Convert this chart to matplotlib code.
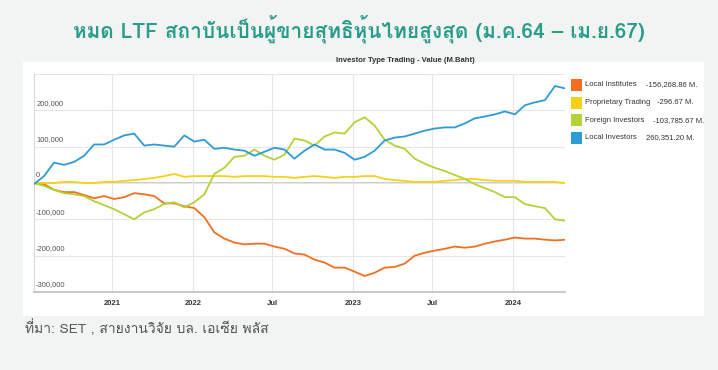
#!/usr/bin/env python3
"""LTF / investor type net trading chart (Jan 2021 - Apr 2024)."""
import matplotlib
matplotlib.use("Agg")
import matplotlib.pyplot as plt
import pandas as pd
from matplotlib import font_manager, ft2font
from matplotlib.patches import Rectangle

# ── data (M.Baht, cumulative net) ────────────────────────────────────────────

START, END = "2021-01-04", "2024-04-28"

local_institutes = [
    0, -3000, -19000, -25000, -25000, -33000, -42000, -36000, -44000, -39000,
    -28000, -31000, -36000, -56000, -56000, -64000, -69000, -94000, -136000, -153000,
    -164000, -169000, -167000, -167000, -175000, -181000, -194000, -197000, -211000, -219000,
    -233000, -233000, -244000, -256000, -247000, -233000, -231000, -222000, -200000, -192000,
    -186000, -181000, -175000, -178000, -175000, -167000, -161000, -156000, -150000, -153000,
    -153000, -156000, -158000, -156269,
]
proprietary = [
    0, 0, 0, 3000, 3000, 0, 0, 3000, 3000, 6000,
    8000, 11000, 14000, 19000, 25000, 17000, 19000, 19000, 19000, 19000,
    17000, 19000, 19000, 19000, 17000, 17000, 14000, 17000, 19000, 17000,
    14000, 17000, 17000, 19000, 19000, 11000, 8000, 6000, 3000, 3000,
    3000, 6000, 8000, 11000, 11000, 8000, 6000, 6000, 6000, 3000,
    3000, 3000, 3000, -297,
]
foreign = [
    0, -8000, -19000, -28000, -31000, -36000, -50000, -61000, -72000, -86000,
    -100000, -81000, -72000, -58000, -53000, -67000, -53000, -31000, 25000, 42000,
    72000, 75000, 92000, 75000, 64000, 78000, 122000, 117000, 103000, 128000,
    139000, 136000, 167000, 181000, 158000, 119000, 103000, 94000, 67000, 53000,
    42000, 33000, 22000, 11000, -3000, -14000, -25000, -39000, -39000, -58000,
    -64000, -69000, -100000, -103786,
]
local_investors = [
    -3000, 19000, 56000, 50000, 58000, 75000, 106000, 106000, 119000, 131000,
    136000, 103000, 106000, 103000, 100000, 131000, 114000, 119000, 94000, 97000,
    92000, 89000, 75000, 86000, 97000, 92000, 67000, 89000, 106000, 92000,
    92000, 83000, 64000, 72000, 89000, 117000, 125000, 128000, 136000, 144000,
    150000, 153000, 153000, 164000, 178000, 183000, 189000, 197000, 189000, 214000,
    222000, 228000, 267000, 260351,
]

SERIES = ["Local Institutes", "Proprietary Trading", "Foreign Investors", "Local Investors"]
FINAL = ["-156,268.86 M.", "-296.67 M.", "-103,785.67 M.", "260,351.20 M."]
COLORS = ["#f26f21", "#f7d117", "#b2d235", "#2e9bd6"]

TICK_DATES = ["2021-07-01", "2022-01-01", "2022-07-01", "2023-01-01", "2023-07-01", "2024-01-01"]
TICK_LABELS = ["2021", "2022", "Jul", "2023", "Jul", "2024"]
Y_TICKS = [-300000, -200000, -100000, 0, 100000, 200000, 300000]

TITLE = "หมด LTF สถาบันเป็นผู้ขายสุทธิหุ้นไทยสูงสุด (ม.ค.64 – เม.ย.67)"
FOOTER = "ที่มา: SET , สายงานวิจัย บล. เอเซีย พลัส"


# ── fonts ────────────────────────────────────────────────────────────────────

def thai_family():
    for f in font_manager.fontManager.ttflist:
        try:
            cmap = ft2font.FT2Font(f.fname).get_charmap()
        except Exception:
            continue
        if 0x0E01 in cmap:
            return f.name
    return "DejaVu Sans"


THAI = [thai_family(), "DejaVu Sans"]
NARROW = ["Liberation Sans Narrow", "Liberation Sans", "DejaVu Sans"]


# ── figure ───────────────────────────────────────────────────────────────────

fig = plt.figure(figsize=(7.18, 3.70), dpi=100, facecolor="#f2f4f4")
W, H = 718, 370

# white chart panel (behind the axes)
fig.patches.append(Rectangle((23 / W, 1 - 316 / H), 681 / W, 254 / H,
                             transform=fig.transFigure, facecolor="white",
                             edgecolor="none", zorder=-5))

fig.text(0.5, 1 - 29 / H, TITLE, ha="center", va="center", fontsize=15,
         fontweight="bold", color="#2a9d8a", family=THAI)
fig.text(25 / W, 1 - 328 / H, FOOTER, ha="left", va="center", fontsize=10,
         color="#555555", family=THAI)

ax = fig.add_axes([34 / W, 1 - 292 / H, 531 / W, 218 / H], zorder=2)
ax.set_facecolor("white")

dates = pd.date_range(START, END, periods=len(local_investors))
for name, vals, col in zip(SERIES, [local_institutes, proprietary, foreign, local_investors], COLORS):
    ax.plot(dates, vals, color=col, lw=1.3, label=name, zorder=3)

ax.set_xlim(pd.Timestamp(START), pd.Timestamp(END))
ax.set_ylim(-300000, 300000)

ax.set_xticks(pd.to_datetime(TICK_DATES))
ax.set_xticklabels(TICK_LABELS, fontsize=5.5, fontweight="bold", color="#333333",
                   family=NARROW)
ax.tick_params(axis="x", length=0, pad=6)
ax.set_yticks(Y_TICKS)
ax.set_yticklabels([])
ax.tick_params(axis="y", length=0)
ax.grid(True, color="#e6e6e6", lw=0.8, zorder=0)
ax.axhline(0, color="#c4c4c4", lw=1.2, zorder=1)

# y labels inside plot, above gridlines
for v in Y_TICKS[:-1]:
    ax.text(0.004, v + 10000, f"{v:,}", transform=ax.get_yaxis_transform(),
            ha="left", va="bottom", fontsize=5.5, color="#555555", family=NARROW)

for side in ["top", "right"]:
    ax.spines[side].set_visible(False)
ax.spines["left"].set_color("#d8d8d8")
ax.spines["bottom"].set_color("#c8c8c8")
ax.spines["bottom"].set_linewidth(1.4)

fig.text(405 / W, 1 - 61 / H, "Investor Type Trading - Value (M.Baht)", ha="center",
         va="center", fontsize=5.5, fontweight="bold", color="#333333", family=NARROW)

# ── legend (manual, with final values) ───────────────────────────────────────
rows_y = [85, 102.7, 120.3, 137.7]
val_x = [646, 657, 653, 646]
for name, fin, col, ry, vx in zip(SERIES, FINAL, COLORS, rows_y, val_x):
    fig.patches.append(Rectangle((571 / W, 1 - (ry + 6) / H), 11 / W, 12 / H,
                                 transform=fig.transFigure, facecolor=col,
                                 edgecolor="none"))
    fig.text(585 / W, 1 - ry / H, name, ha="left", va="center", fontsize=5.5,
             color="#333333", family=NARROW)
    fig.text(vx / W, 1 - ry / H, fin, ha="left", va="center", fontsize=5.5,
             color="#333333", family=NARROW)

fig.savefig("out.png", dpi=100, facecolor=fig.get_facecolor())
